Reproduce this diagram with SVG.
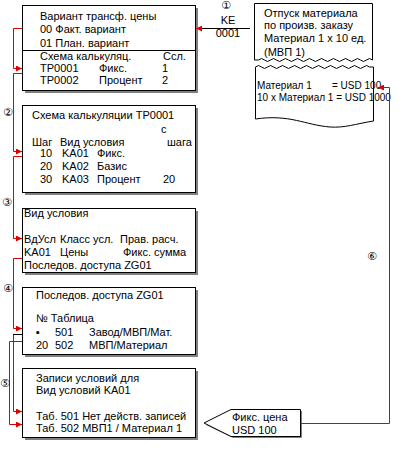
<svg xmlns="http://www.w3.org/2000/svg" width="400" height="450" viewBox="0 0 400 450">
<defs>
<marker id="ah" markerWidth="6" markerHeight="6" refX="6" refY="3" orient="auto" markerUnits="userSpaceOnUse"><path d="M0,0 L6,3 L0,6 z" fill="#e00000"/></marker>
<style>
text{font-family:"Liberation Sans",Arial,sans-serif;font-size:11px;fill:#000}
.sm{font-size:10px}
.num{font-family:"DejaVu Sans","Noto Sans CJK JP",sans-serif;font-size:11px}
.box{fill:#fff;stroke:#000;stroke-width:1}
.sh{fill:#808080}
.red{fill:none;stroke:#e00000;stroke-width:1}
.blk{fill:none;stroke:#000;stroke-width:1}
</style>
</defs>
<rect width="400" height="450" fill="#fff"/>
<g id="n1">
<rect class="sh" x="25" y="8" width="173" height="85"/>
<rect class="box" x="22.5" y="5.5" width="173" height="85"/>
<line class="blk" x1="22.5" y1="50.5" x2="195.5" y2="50.5"/>
<text x="40" y="20">Вариант трансф. цены</text>
<text x="40" y="33">00 Факт. вариант</text>
<text x="40" y="47">01 План. вариант</text>
<text x="40" y="60">Схема калькуляц.</text><text x="163" y="60">Ссл.</text>
<text x="40" y="72">TP0001</text><text x="99" y="72">Фикс.</text><text x="162" y="72">1</text>
<text x="40" y="84">TP0002</text><text x="99" y="84">Процент</text><text x="162" y="84">2</text>
</g>
<g id="n2">
<rect class="sh" x="25" y="108" width="173" height="87"/>
<rect class="box" x="22.5" y="105.5" width="173" height="87"/>
<text x="32" y="119">Схема калькуляции TP0001</text>
<text x="161" y="133">с</text>
<text x="32" y="146">Шаг</text><text x="60" y="146">Вид условия</text><text x="167" y="146">шага</text>
<text x="40" y="157">10</text><text x="62" y="157">KA01</text><text x="97" y="157">Фикс.</text>
<text x="40" y="170">20</text><text x="62" y="170">KA02</text><text x="97" y="170">Базис</text>
<text x="40" y="183">30</text><text x="62" y="183">KA03</text><text x="97" y="183">Процент</text><text x="163" y="183">20</text>
</g>
<g id="n3">
<rect class="sh" x="25" y="211" width="173" height="64"/>
<rect class="box" x="22.5" y="208.5" width="173" height="64"/>
<text x="24" y="217">Вид условия</text>
<text x="24" y="243">ВдУсл</text><text x="60" y="243">Класс усл.</text><text x="120" y="243">Прав. расч.</text>
<text x="24" y="256">KA01</text><text x="60" y="256">Цены</text><text x="123" y="256">Фикс. сумма</text>
<text x="24" y="269">Последов. доступа ZG01</text>
</g>
<g id="n4">
<rect class="sh" x="25" y="290" width="173" height="67"/>
<rect class="box" x="22.5" y="287.5" width="173" height="67"/>
<text x="36" y="299">Последов. доступа ZG01</text>
<text x="36" y="322">№ Таблица</text>
<text x="36" y="336">▪</text><text x="55" y="336">501</text><text x="89" y="336">Завод/МВП/Мат.</text>
<text x="36" y="349">20</text><text x="55" y="349">502</text><text x="89" y="349">МВП/Материал</text>
</g>
<g id="n5">
<rect class="sh" x="25" y="371" width="173" height="69"/>
<rect class="box" x="22.5" y="368.5" width="173" height="69"/>
<text x="36" y="382">Записи условий для</text>
<text x="36" y="394">Вид условий KA01</text>
<text x="36" y="420">Таб. 501 Нет действ. записей</text>
<text x="36" y="432">Таб. 502 МВП1 / Материал 1</text>
</g>
<g id="doc">
<path class="box" d="M254.5,3.5 H372.5 V60 Q369.5,57 366.5,60 T360.5,60 T354.5,60 T348.5,60 T342.5,60 T336.5,60 T330.5,60 T324.5,60 T318.5,60 T312.5,60 T306.5,60 T300.5,60 T294.5,60 T288.5,60 T282.5,60 T276.5,60 T270.5,60 T264.5,60 T258.5,60 L254.5,60 Z"/>
<text x="264" y="17">Отпуск материала</text>
<text x="264" y="29">по произв. заказу</text>
<text x="264" y="42">Материал 1 x 10 ед.</text>
<text x="264" y="56">(МВП 1)</text>
<path class="box" d="M255.5,67 Q258.5,64 261.5,67 T267.5,67 T273.5,67 T279.5,67 T285.5,67 T291.5,67 T297.5,67 T303.5,67 T309.5,67 T315.5,67 T321.5,67 T327.5,67 T333.5,67 T339.5,67 T345.5,67 T351.5,67 T357.5,67 T363.5,67 T369.5,67 L373.5,67 V121 C355,124 345,128 330,127 C305,125 290,114 255.5,119 Z"/>
<text class="sm" x="257" y="89">Материал 1</text><text class="sm" x="332" y="89">= USD 100</text>
<text class="sm" x="257" y="101">10 x Материал 1 = USD 1000</text>
</g>
<g id="fix">
<polygon class="sh" points="206,425 233,411 302,411 302,438 233,438"/>
<polygon class="box" points="204,423 231,409.5 300.5,409.5 300.5,436.5 231,436.5"/>
<text x="232" y="421">Фикс. цена</text>
<text x="232" y="434">USD 100</text>
</g>
<g id="ke">
<text class="num" x="226" y="9" text-anchor="middle">①</text>
<text x="228" y="24" text-anchor="middle">KE</text>
<text x="228" y="37" text-anchor="middle">0001</text>
</g>
<g id="connectors">
<line class="blk" x1="250" y1="28.5" x2="200" y2="28.5"/>
<line class="red" x1="202" y1="28.5" x2="196" y2="28.5" marker-end="url(#ah)"/>
<path class="red" d="M22,28.5 H13.5 V68.5 H22" marker-end="url(#ah)"/>
<path class="red" d="M22,73.5 H13.5 V151.5 H22" marker-end="url(#ah)"/>
<path class="red" d="M22,156.5 H13.5 V238.5 H22" marker-end="url(#ah)"/>
<path class="red" d="M22,258.5 H13.5 V328.5 H22" marker-end="url(#ah)"/>
<path class="red" d="M13.5,334.5 V411.5 H22" marker-end="url(#ah)"/>
<line class="blk" x1="13" y1="334.5" x2="22" y2="334.5"/>
<path class="red" d="M22,341.5 H9.5 V424.5 H22" marker-end="url(#ah)"/>
<path class="red" d="M300.5,423.5 H389.5 V87.5 H378" marker-end="url(#ah)"/>
<text class="num" x="8" y="116" text-anchor="middle">②</text>
<text class="num" x="7" y="206" text-anchor="middle">③</text>
<text class="num" x="8" y="292" text-anchor="middle">④</text>
<text class="num" x="5" y="387" text-anchor="middle">⑤</text>
<text class="num" x="372" y="260" text-anchor="middle">⑥</text>
</g>
</svg>
